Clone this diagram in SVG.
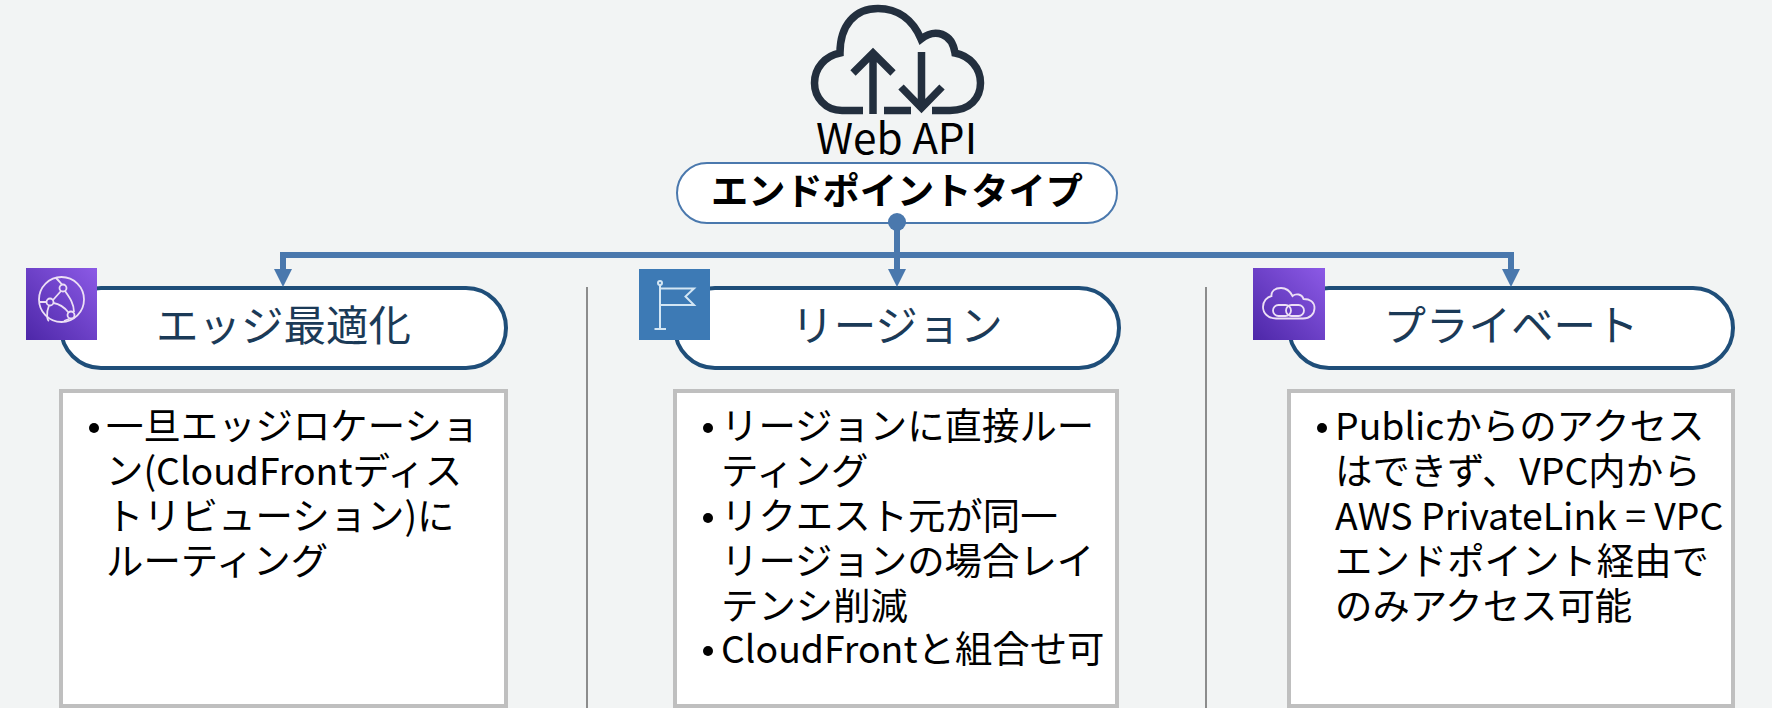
<svg xmlns="http://www.w3.org/2000/svg" width="1772" height="708" viewBox="0 0 1772 708">
<defs>
<style>
text{font-family:"Noto Sans CJK JP","Noto Sans",sans-serif}
.body{font-size:37.4px;fill:#000}
.head{font-size:42.5px;fill:#1b3a57;text-anchor:middle}
.hd{fill:#fff;stroke:#1f4e79;stroke-width:4}
.box{fill:#fff;stroke:#bfbfbf;stroke-width:4}
.ln{fill:none;stroke:#4a78ad;stroke-width:6}
.ah{fill:#4a78ad}
.ic{fill:none;stroke:#ecdff5;stroke-width:1.8}
.fl{fill:none;stroke:#d3e6f4;stroke-width:2}
.div{stroke:#8c8c8c;stroke-width:2}
</style>
<linearGradient id="pg" x1="0" y1="1" x2="1" y2="0"><stop offset="0" stop-color="#4d27a8"/><stop offset="1" stop-color="#8c5ae6"/></linearGradient>
</defs>
<rect width="1772" height="708" fill="#f2f4f4"/>
<g id="dividers">
<line class="div" x1="587" y1="287" x2="587" y2="708"/>
<line class="div" x1="1206" y1="287" x2="1206" y2="708"/>
</g>
<g id="cloud" fill="none" stroke="#232f3e" stroke-width="7.5">
<path d="M863 110.5H842C825 110.5 814.5 97 814.5 83C814.5 68 825 56 840 53C840 25 855 8.5 878 8.5C898 8.5 913 20 921 39C935 28 952 33 955 53C970 56 980.5 68 980.5 83C980.5 98 970 110.5 950 110.5H932"/>
<path d="M873 114V53M853 73L873 53L893 73"/>
<path d="M921.5 52V108M901 87L921.5 108L942 87"/>
<path d="M884 110.5H911"/>
</g>
<g id="webapi"><text x="896.500" y="154" font-size="42.3" text-anchor="middle">Web API</text></g>
<g id="endpoint">
<rect x="677" y="163" width="440" height="60" rx="30" fill="#fff" stroke="#4a78ad" stroke-width="2"/>
<text x="897" y="205" font-size="37.2" font-weight="700" text-anchor="middle">エンドポイントタイプ</text>
</g>
<g id="edge">
<rect class="hd" x="61" y="288" width="445" height="80" rx="40"/>
<rect x="26" y="268" width="71" height="72" fill="url(#pg)"/>
<circle class="ic" cx="61.5" cy="299.5" r="22.5"/>
<circle class="ic" cx="63" cy="288" r="3.5"/><circle class="ic" cx="50" cy="302" r="3.5"/><circle class="ic" cx="71" cy="315" r="3.5"/>
<path class="ic" d="M53 300L61 291M53.5 303C60 304 65 308 68.5 312.5M49 305.5C46 313 47 320 49 321M62 284.5C59 281 57 279 56 278M65 291C70 298 74 304 74 312M70 318.5L64 321M46.5 302H39"/>
<text class="head" x="283.500" y="341">エッジ最適化</text>
<rect class="box" x="61" y="391" width="445" height="315"/>
<circle cx="94" cy="428" r="5"/>
<text x="106" y="440" class="body">一旦エッジロケーショ</text>
<text x="106" y="485" class="body">ン(CloudFrontディス</text>
<text x="106" y="530" class="body">トリビューション)に</text>
<text x="106" y="575" class="body">ルーティング</text>
</g>
<g id="region">
<rect class="hd" x="675" y="288" width="444" height="80" rx="40"/>
<rect x="639" y="269" width="71" height="71" fill="#3d7ab5"/>
<circle class="fl" cx="660" cy="283" r="2"/><path class="fl" d="M660 285V329M654.5 329H666M660 288.500H694L685.500 296.500L694 305H660"/>
<text class="head" x="897" y="341">リージョン</text>
<rect class="box" x="675" y="391" width="442" height="315"/>
<circle cx="708" cy="428" r="5"/>
<text x="721" y="440" class="body">リージョンに直接ルー</text>
<text x="721" y="485" class="body">ティング</text>
<circle cx="708" cy="518" r="5"/>
<text x="721" y="530" class="body">リクエスト元が同一</text>
<text x="721" y="575" class="body">リージョンの場合レイ</text>
<text x="721" y="620" class="body">テンシ削減</text>
<circle cx="708" cy="651" r="5"/>
<text x="721" y="663" class="body">CloudFrontと組合せ可</text>
</g>
<g id="private">
<rect class="hd" x="1289" y="288" width="444" height="80" rx="40"/>
<rect x="1253" y="268" width="72" height="72" fill="url(#pg)"/>
<path class="ic" d="M1276 318.500C1268 318.500 1263 313 1263 307C1263 301 1267 297 1271.500 296C1271 291 1275 288 1281 288C1286 288 1290 291 1292.500 296C1296 293 1302 294 1303.500 299C1310 299 1314.500 302 1314.500 308C1314.500 314 1310 318.500 1303 318.500Z"/>
<rect class="ic" x="1273" y="305" width="18" height="11" rx="5.5"/><rect class="ic" x="1286" y="305" width="18" height="11" rx="5.5"/>
<text class="head" x="1511" y="341">プライベート</text>
<rect class="box" x="1289" y="391" width="444" height="315"/>
<circle cx="1322" cy="428" r="5"/>
<text x="1335" y="440" class="body">Publicからのアクセス</text>
<text x="1335" y="485" class="body">はできず、VPC内から</text>
<text x="1335" y="530" class="body">AWS PrivateLink = VPC</text>
<text x="1335" y="575" class="body">エンドポイント経由で</text>
<text x="1335" y="620" class="body">のみアクセス可能</text>
</g>
<g id="connectors">
<path class="ln" d="M897 222V270"/>
<path class="ln" d="M283 270V255H1511V270"/>
<path class="ah" d="M283 287L274 269H292Z"/>
<path class="ah" d="M897 287L888 269H906Z"/>
<path class="ah" d="M1511 287L1502 269H1520Z"/>
<circle class="ah" cx="897" cy="222" r="9"/>
</g>
</svg>
